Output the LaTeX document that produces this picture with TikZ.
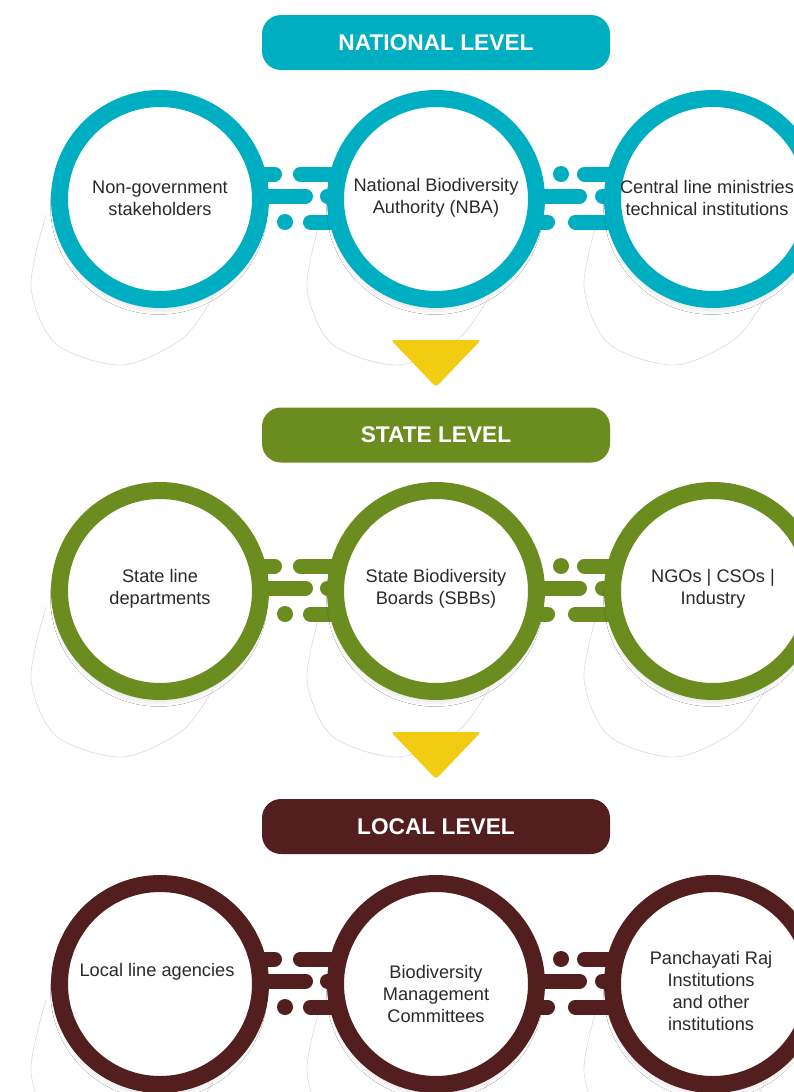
\documentclass[tikz,border=0pt]{standalone}
\usepackage{fontspec}
\setmainfont{Liberation Sans}
\usetikzlibrary{calc,shadows.blur}
\definecolor{cteal}{HTML}{00AEC2}
\definecolor{cgreen}{HTML}{6B8C1F}
\definecolor{cmaroon}{HTML}{531F1E}
\definecolor{cyellow}{HTML}{F2CC12}
\definecolor{ctext}{HTML}{2A2A2A}
\definecolor{cblob}{HTML}{D2D2D2}
\tikzset{
  ring/.style={circle, draw=lc, line width=17pt, fill=white, minimum size=201pt, inner sep=0pt,
    blur shadow={shadow xshift=-1pt, shadow yshift=-7pt, shadow blur radius=8pt, shadow opacity=22}},
  bar/.style={draw=lc, line width=15pt, line cap=round},
  dotc/.style={circle, fill=lc, minimum size=16pt, inner sep=0pt},
  blob/.style={draw=cblob, line width=0.45pt},
  lbl/.style={text=ctext, align=center, inner sep=0pt, font=\fontsize{18.2}{22}\selectfont},
  header/.style={rounded corners=19pt, minimum width=348pt, minimum height=55pt, text=white,
    font=\bfseries\fontsize{22.7}{26}\selectfont},
  arrowtri/.style={fill=cyellow, rounded corners=3pt},
}
% #1 = centre y, #2 = name prefix
\newcommand{\ringrow}[2]{%
  \foreach \cx in {160,436,713} {
    \draw[blob] plot[smooth] coordinates {(\cx-114,#1+16) (\cx-129,#1+88) (\cx-104,#1+145) (\cx-38,#1+166) (\cx+22,#1+140) (\cx+53,#1+98)};
  }
  \coordinate (#2A) at (160,#1);
  \coordinate (#2B) at (436,#1);
  \coordinate (#2C) at (713,#1);
  % left connector
  \draw[bar] ($(#2A)+(0,-25)$) -- (274.5,#1-25);
  \draw[bar] (300.5,#1-25) -- ($(#2B)+(0,-25)$);
  \draw[bar] ($(#2A)+(0,-3)$) -- (305.5,#1-3);
  \draw[bar] (327.5,#1-3) -- ($(#2B)+(0,-3)$);
  \node[dotc] (#2d1) at (285,#1+23) {};
  \draw[bar] (310.5,#1+23) -- ($(#2B)+(0,23)$);
  % right connector
  \node[dotc] (#2d2) at (561,#1-25) {};
  \draw[bar] (584.5,#1-25) -- ($(#2C)+(0,-25)$);
  \draw[bar] ($(#2B)+(0,-3)$) -- (579.5,#1-3);
  \draw[bar] (602.5,#1-3) -- ($(#2C)+(0,-3)$);
  \draw[bar] ($(#2B)+(0,23)$) -- (547.5,#1+23);
  \draw[bar] (575.5,#1+23) -- ($(#2C)+(0,23)$);
  % circles
  \node[ring] (#2cA) at (#2A) {};
  \node[ring] (#2cB) at (#2B) {};
  \node[ring] (#2cC) at (#2C) {};
}
\begin{document}
\begin{tikzpicture}[x=1pt,y=-1pt]
\useasboundingbox (0,0) rectangle (794,1092);
\clip (0,0) rectangle (794,1092);
\fill[white] (0,0) rectangle (794,1092);

% ---------- NATIONAL ----------
\colorlet{lc}{cteal}
\node[header, fill=cteal] (hN) at (436,42.5) {NATIONAL LEVEL};
\ringrow{199}{n}
\node[lbl] (nt1) at (160,198) {Non-government\\stakeholders};
\node[lbl] (nt2) at (436,198) {National Biodiversity\\Authority (NBA)};
\node[lbl] (nt3) at (707,198) {Central line ministries\\technical institutions};

% ---------- STATE ----------
\colorlet{lc}{cgreen}
\ringrow{591}{s}
\fill[arrowtri] (391,340) -- (481,340) -- (436,387) -- cycle;
\node[header, fill=cgreen] (hS) at (436,435) {STATE LEVEL};
\node[lbl] (st1) at (160,589) {State line\\departments};
\node[lbl] (st2) at (436,589) {State Biodiversity\\Boards (SBBs)};
\node[lbl] (st3) at (713,589) {NGOs | CSOs |\\Industry};

% ---------- LOCAL ----------
\colorlet{lc}{cmaroon}
\ringrow{984}{l}
\fill[arrowtri] (391,732) -- (481,732) -- (436,779) -- cycle;
\node[header, fill=cmaroon] (hL) at (436,826.5) {LOCAL LEVEL};
\node[lbl] (lt1) at (157,972) {Local line agencies};
\node[lbl] (lt2) at (436,994) {Biodiversity\\Management\\Committees};
\node[lbl] (lt3) at (711,991) {Panchayati Raj\\Institutions\\and other\\institutions};
\end{tikzpicture}
\end{document}
